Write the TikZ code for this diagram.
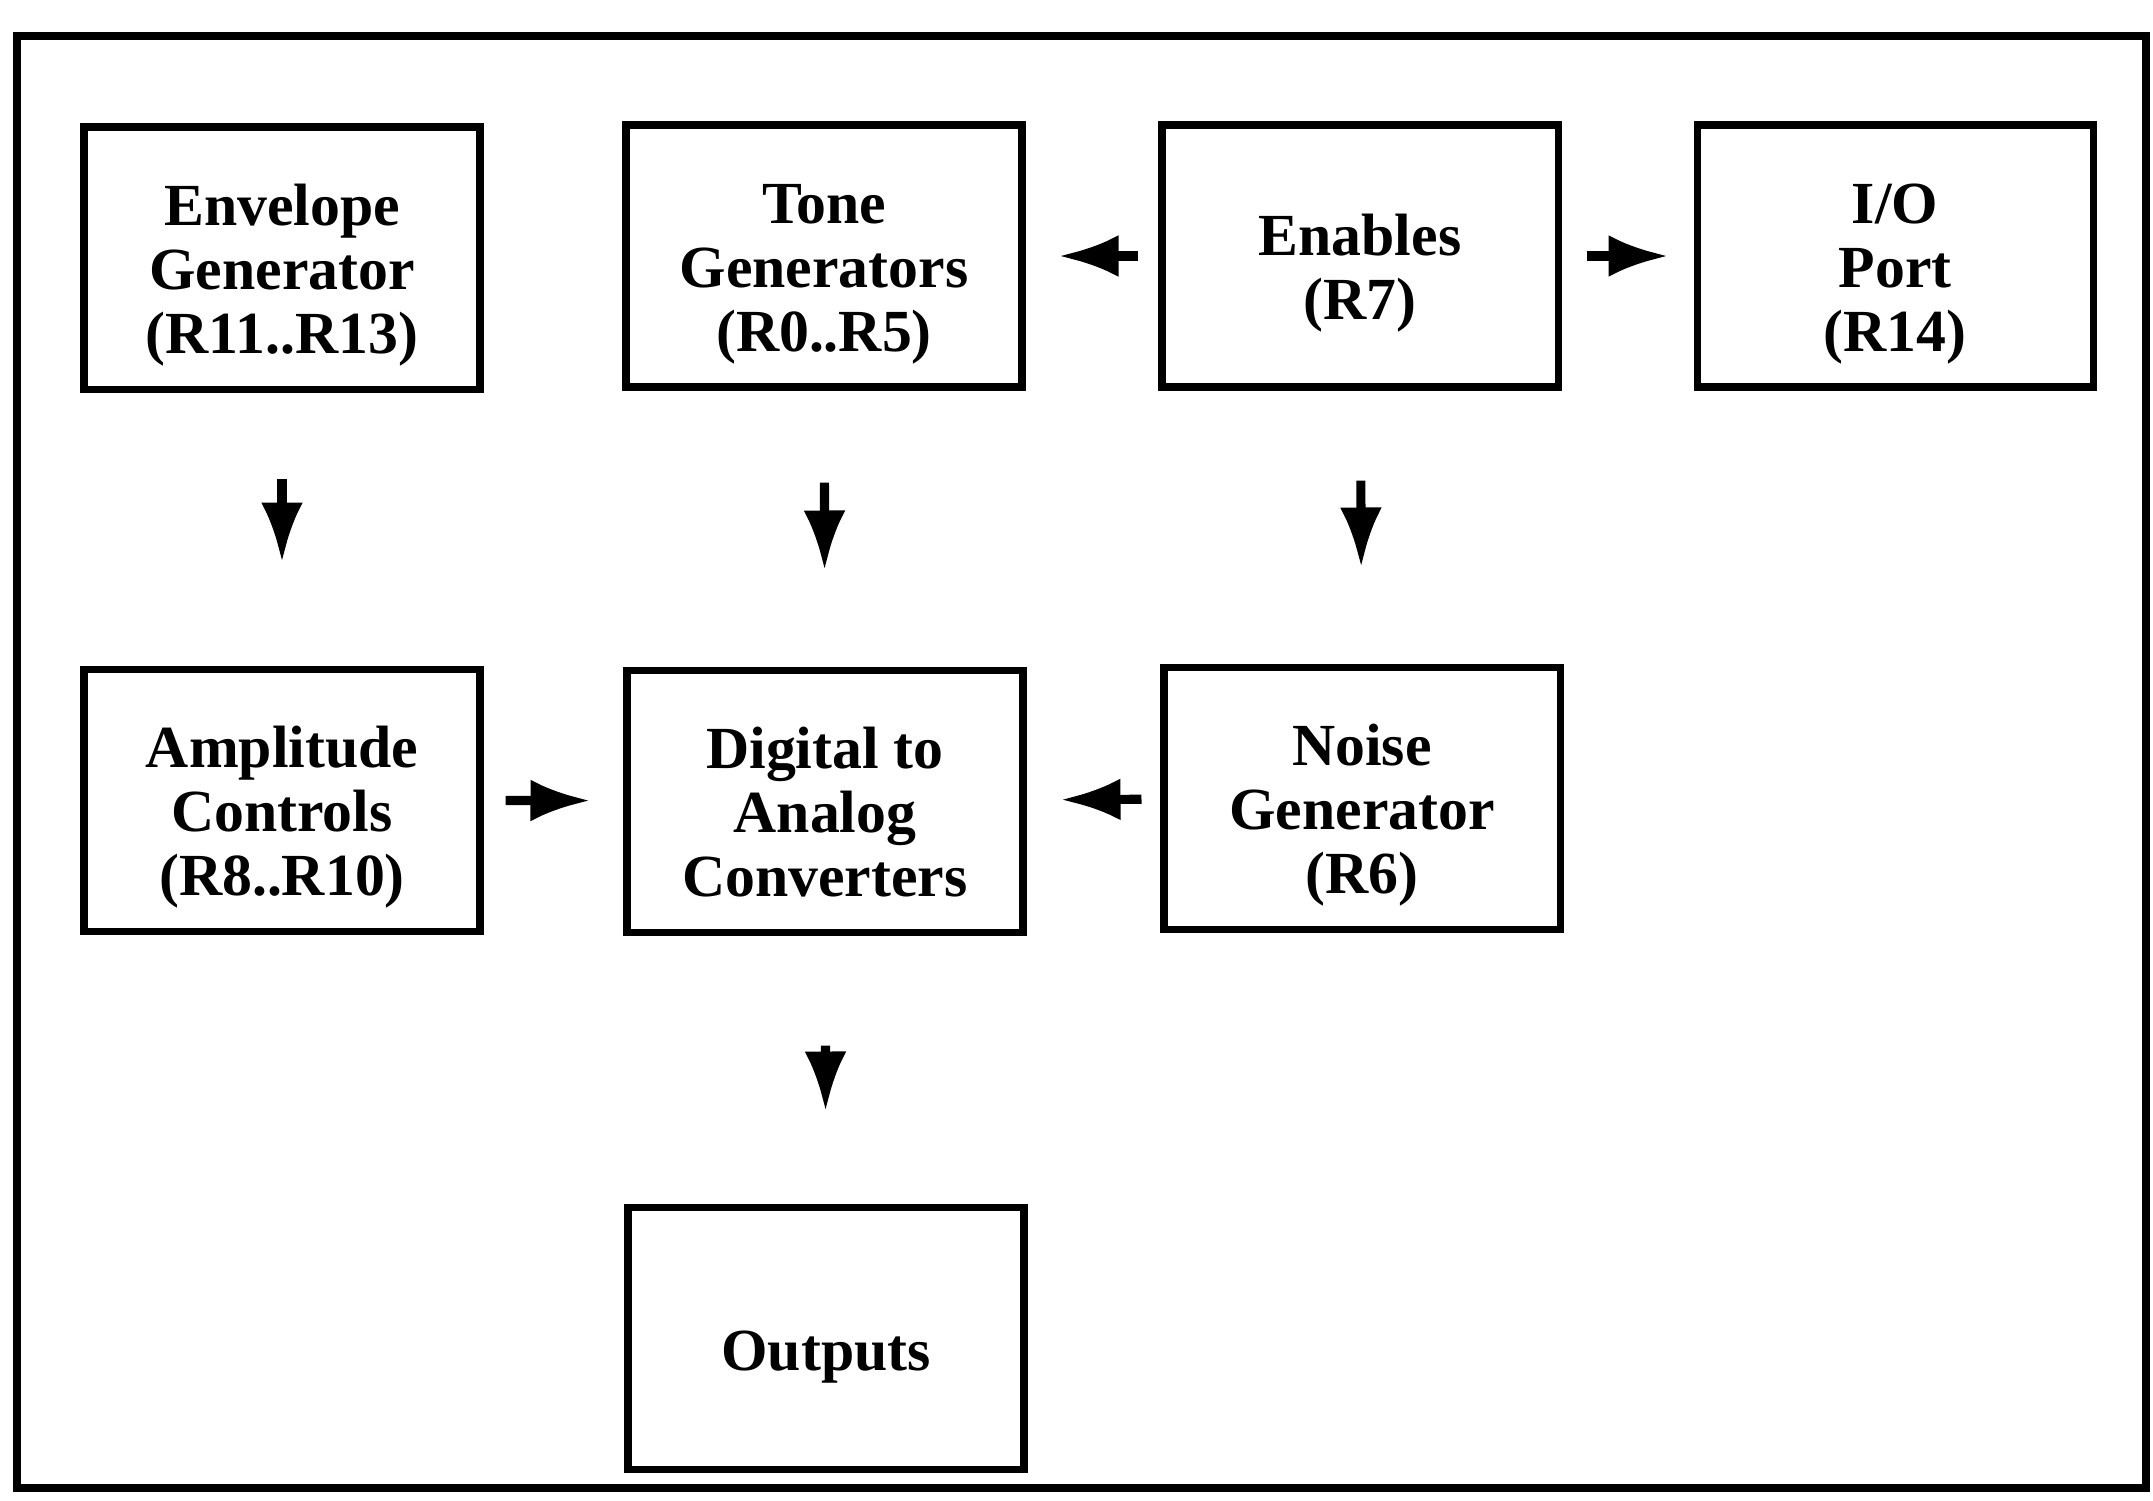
\documentclass[tikz,border=0pt]{standalone}
\usepackage{fontspec}
\setmainfont{Liberation Serif}
\usetikzlibrary{arrows.meta,positioning}
\tikzset{
  >={Latex[length=6mm,width=4.2mm]},
  blk/.style={draw,line width=2pt,minimum width=39.6mm,minimum height=26.2mm,
    inner sep=0pt,text height=#1,text depth=0pt,align=center,
    font=\fontsize{17}{18.2}\selectfont\bfseries},
  blk/.default=54.5pt,
  flow/.style={->,line width=2.6pt},
}
\begin{document}
\begin{tikzpicture}
  \useasboundingbox (0,0) rectangle (21.53,-15.0);
  % outer frame
  \draw[line width=2.2pt] (0.17,-0.36) rectangle (21.46,-14.88);

  \node[blk] (env) at (2.82,-2.58) {Envelope\\Generator\\(R11..R13)};
  \node[blk] (tone) at (8.24,-2.56) {Tone\\Generators\\(R0..R5)};
  \node[blk=36.3pt] (en) at (13.6,-2.56) {Enables\\(R7)};
  \node[blk] (io) at (18.95,-2.56) {I/O\\Port\\(R14)};
  \node[blk] (amp) at (2.82,-8.0) {Amplitude\\Controls\\(R8..R10)};
  \node[blk] (dac) at (8.25,-8.01) {Digital to\\Analog\\Converters};
  \node[blk] (noise) at (13.62,-7.98) {Noise\\Generator\\(R6)};
  \node[blk=18.4pt] (out) at (8.26,-13.38) {Outputs};

  \draw[flow,shorten <=2mm,shorten >=3.3mm] (en) -- (tone);
  \draw[flow,shorten <=2.5mm,shorten >=2.5mm] (en) -- (io);
  \draw[flow,shorten <=8.6mm,shorten >=10.3mm] (env) -- (amp);
  \draw[flow,shorten <=9.2mm,shorten >=9.6mm] (tone) -- (dac);
  \draw[flow,shorten <=9.0mm,shorten >=9.6mm] (en) -- (noise);
  \draw[flow,shorten <=2.2mm,shorten >=3.3mm] (amp) -- (dac);
  \draw[flow,shorten <=1.9mm,shorten >=3.4mm] (noise) -- (dac);
  \draw[flow,shorten <=11.0mm,shorten >=9.2mm] (dac) -- (out);
\end{tikzpicture}
\end{document}
